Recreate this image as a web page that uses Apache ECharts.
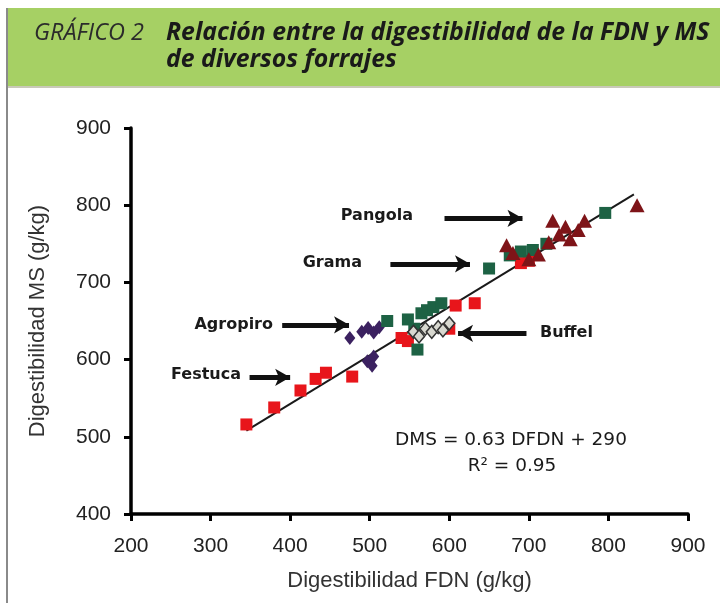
<!DOCTYPE html>
<html>
<head>
<meta charset="utf-8">
<script src="https://cdn.jsdelivr.net/npm/echarts@6/dist/echarts.min.js"></script>
<style>
html,body{margin:0;padding:0;background:#fff;}
#c{width:720px;height:603px;}
</style>
</head>
<body>
<div id="c"></div>
<script>
// ---- data (g/kg) ----
var xTicks = [200, 300, 400, 500, 600, 700, 800, 900];
var yTicks = [400, 500, 600, 700, 800, 900];

var festuca = [[345,516],[380,538],[413,560],[432,575],[445,583],[478,578],[540,628],[548,624],[600,640],[608,670],[632,673],[690,725],[700,728]];
var agropiro = [[475,628],[490,636],[498,641],[505,635],[512,642],[497,598],[503,592],[505,604]];
var grama = [[522,650],[548,652],[556,640],[560,613],[565,660],[572,664],[580,668],[590,673],[650,718],[676,735],[690,740],[705,742],[722,750],[796,790]];
var buffel = [[555,636],[562,630],[570,640],[578,636],[586,642],[592,638],[600,647]];
var pangola = [[672,748],[680,738],[700,730],[712,736],[730,780],[738,762],[746,772],[752,756],[762,768],[770,780],[725,752],[836,800]];
var fitLine = [[345,508],[832,814]];

// annotation arrows: [from, to] in data units
var arrows = [
  [[594,783],[692,783]],   // Pangola
  [[526,724],[626,724]],   // Grama
  [[390,645],[474,645]],   // Agropiro
  [[349,577],[400,577]],   // Festuca
  [[697,634],[611,634]]    // Buffel
];
var arrowLabels = ['Pangola','Grama','Agropiro','Festuca','Buffel'];
var eqText = 'DMS = 0.63 DFDN + 290';
var r2Text = 'R² = 0.95';

var chart = echarts.init(document.getElementById('c'), null, {renderer:'canvas'});

var font = '"Liberation Sans", Arial, sans-serif';
var annFont = 'bold 16px "DejaVu Sans", sans-serif';

var option = {
  animation: false,
  backgroundColor: '#ffffff',
  grid: {left:131, right:32, top:128, bottom:89, containLabel:false},
  xAxis: {
    type:'value', min:200, max:900, interval:100,
    name:'Digestibilidad FDN (g/kg)', nameLocation:'middle', nameGap:56,
    nameTextStyle:{fontFamily:font, fontSize:22, color:'#333'},
    axisLine:{show:true, onZero:false, lineStyle:{color:'#000', width:3.5}},
    axisTick:{show:true, inside:false, length:7, lineStyle:{color:'#000', width:3}},
    axisLabel:{fontFamily:font, fontSize:21, color:'#222', margin:22},
    splitLine:{show:false}
  },
  yAxis: {
    type:'value', min:400, max:900, interval:100,
    name:'Digestibilidad MS (g/kg)', nameLocation:'middle', nameGap:82, nameRotate:90,
    nameTextStyle:{fontFamily:font, fontSize:22, color:'#333'},
    axisLine:{show:true, onZero:false, lineStyle:{color:'#000', width:3.5}},
    axisTick:{show:true, inside:false, length:7, lineStyle:{color:'#000', width:3}},
    axisLabel:{fontFamily:font, fontSize:21, color:'#222', margin:20},
    splitLine:{show:false}
  },
  series: [
    {type:'line', data:fitLine, symbol:'none', lineStyle:{color:'#1a1a1a', width:2}, z:1,
     markLine:{silent:true, symbol:['none','arrow'], symbolSize:[13,15],
       lineStyle:{color:'#111', width:5, type:'solid'}, label:{show:false},
       data: arrows.map(function(a){return [{coord:a[0]},{coord:a[1]}];})}},
    {type:'scatter', name:'Festuca', data:festuca, symbol:'rect', symbolSize:12,
     itemStyle:{color:'#e8151b', opacity:1}, z:3},
    {type:'scatter', name:'Agropiro', data:agropiro, symbol:'diamond', symbolSize:[11,14],
     itemStyle:{color:'#3b2160', opacity:1}, z:3},
    {type:'scatter', name:'Grama', data:grama, symbol:'rect', symbolSize:12,
     itemStyle:{color:'#1d6244', opacity:1}, z:3},
    {type:'scatter', name:'Buffel', data:buffel, symbol:'diamond', symbolSize:[11,13],
     itemStyle:{color:'#d8d8d0', borderColor:'#333', borderWidth:1.5, opacity:1}, z:4},
    {type:'scatter', name:'Pangola', data:pangola, symbol:'triangle', symbolSize:[15,14],
     itemStyle:{color:'#7e1418', opacity:1}, z:5}
  ],
  graphic: [
    {type:'rect', left:8, top:8, shape:{width:712, height:80}, style:{fill:'#a6d064'}, z:-1},
    {type:'rect', left:8, top:86, shape:{width:712, height:2}, style:{fill:'#c9c9b8'}, z:-1},
    {type:'rect', left:6, top:8, shape:{width:2, height:595}, style:{fill:'#8a8a8a'}, z:-1},
    {type:'text', left:34, top:22, style:{text:'GRÁFICO 2', fill:'#2b2b2b', font:'italic 23.5px "Open Sans", sans-serif'}},
    {type:'text', left:166, top:20, style:{text:'Relación entre la digestibilidad de la FDN y MS', fill:'#1a1a1a', font:'italic bold 24.8px "Open Sans", sans-serif'}},
    {type:'text', left:166, top:47, style:{text:'de diversos forrajes', fill:'#1a1a1a', font:'italic bold 24.8px "Open Sans", sans-serif'}},
    {type:'text', x:413, y:216, style:{text:arrowLabels[0], fill:'#1a1a1a', font:annFont, align:'right', verticalAlign:'middle'}},
    {type:'text', x:362, y:263, style:{text:arrowLabels[1], fill:'#1a1a1a', font:annFont, align:'right', verticalAlign:'middle'}},
    {type:'text', x:273, y:325, style:{text:arrowLabels[2], fill:'#1a1a1a', font:annFont, align:'right', verticalAlign:'middle'}},
    {type:'text', x:241, y:375, style:{text:arrowLabels[3], fill:'#1a1a1a', font:annFont, align:'right', verticalAlign:'middle'}},
    {type:'text', x:540, y:333, style:{text:arrowLabels[4], fill:'#1a1a1a', font:annFont, align:'left', verticalAlign:'middle'}},
    {type:'text', x:511, y:440, style:{text:eqText, fill:'#1a1a1a', font:'18.5px "DejaVu Sans", sans-serif', align:'center', verticalAlign:'middle'}},
    {type:'text', x:512, y:466, style:{text:r2Text, fill:'#1a1a1a', font:'18.5px "DejaVu Sans", sans-serif', align:'center', verticalAlign:'middle'}}
  ]
};
chart.setOption(option);
</script>
</body>
</html>
